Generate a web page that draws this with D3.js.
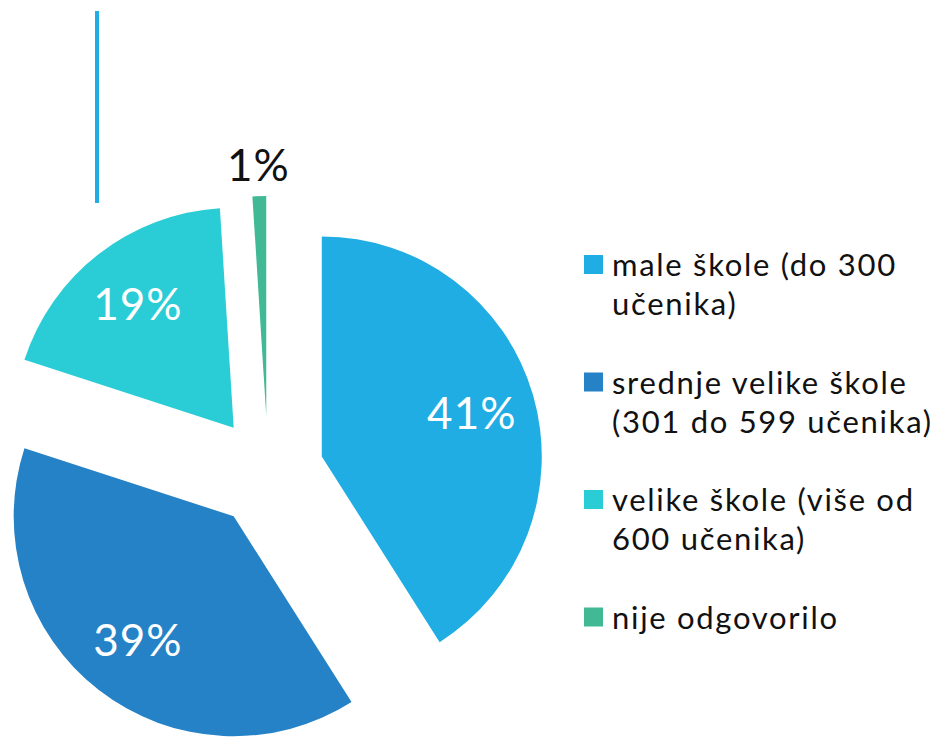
<!DOCTYPE html>
<html>
<head>
<meta charset="utf-8">
<script src="https://cdn.jsdelivr.net/npm/d3@7/dist/d3.min.js"></script>
<style>
  body { margin: 0; background: #fff; }
  svg { display: block; }
  .slice-label { font-family: Lato, "Open Sans", sans-serif; font-size: 44px; letter-spacing: 1px; }
  .legend-text { font-family: Lato, "Open Sans", sans-serif; font-size: 31px; fill: #111; letter-spacing: 1.7px; }
</style>
</head>
<body>
<div id="main"></div>
<script>
// data
var categories = ['male škole (do 300 učenika)', 'srednje velike škole (301 do 599 učenika)', 'velike škole (više od 600 učenika)', 'nije odgovorilo'];
var legendLines = [['male škole (do 300', 'učenika)'], ['srednje velike škole', '(301 do 599 učenika)'], ['velike škole (više od', '600 učenika)'], ['nije odgovorilo']];
var values = [41, 39, 19, 1];
var colors = ['#1fade4', '#2682c6', '#2acdd6', '#41b995'];

(function () {
var width = 940, height = 738;
var svg = d3.select('#main').append('svg')
  .attr('width', width)
  .attr('height', height);

// pie layout
var cx = 268, cy = 472;
var radius = 220;
var explode = 56;

var pie = d3.pie().sort(null).value(function(d) { return d; });
var arc = d3.arc().innerRadius(0).outerRadius(radius);
var arcs = pie(values);

// stray leader line at top left
svg.append('line')
  .attr('x1', 97).attr('x2', 97)
  .attr('y1', 11).attr('y2', 203)
  .attr('stroke', colors[0])
  .attr('stroke-width', 4);

var pieG = svg.append('g').attr('transform', 'translate(' + cx + ',' + cy + ')');

function offset(d, dist) {
  var a = (d.startAngle + d.endAngle) / 2;
  return [Math.sin(a) * dist, -Math.cos(a) * dist];
}

var slices = pieG.selectAll('.slice')
  .data(arcs)
  .enter()
  .append('g')
  .attr('class', 'slice')
  .attr('transform', function(d) {
    var o = offset(d, explode);
    return 'translate(' + o[0] + ',' + o[1] + ')';
  });

slices.append('path')
  .attr('d', arc)
  .attr('fill', function(d, i) { return colors[i]; });

slices.append('text')
  .attr('class', 'slice-label')
  .attr('text-anchor', 'middle')
  .attr('dy', '0.36em')
  .attr('transform', function(d) {
    var small = d.value < 5;
    var o = offset(d, radius * (small ? 1.14 : 0.71));
    return 'translate(' + o[0] + ',' + o[1] + ')';
  })
  .attr('fill', function(d) { return d.value < 5 ? '#111' : '#fff'; })
  .text(function(d) { return d.value + '%'; });

// legend
var legendX = 584, legendY = 255, legendStep = 117.5, lineH = 39;
var legend = svg.selectAll('.legend')
  .data(categories)
  .enter()
  .append('g')
  .attr('class', 'legend')
  .attr('transform', function(d, i) { return 'translate(' + legendX + ',' + (legendY + i * legendStep) + ')'; });

legend.append('rect')
  .attr('width', 19)
  .attr('height', 19)
  .attr('fill', function(d, i) { return colors[i]; });

legend.each(function(d, i) {
  var t = d3.select(this).append('text')
    .attr('class', 'legend-text')
    .attr('x', 28)
    .attr('y', 21);
  legendLines[i].forEach(function(line, j) {
    t.append('tspan')
      .attr('x', 28)
      .attr('dy', j === 0 ? 0 : lineH)
      .text(line);
  });
});
})();
</script>
</body>
</html>
